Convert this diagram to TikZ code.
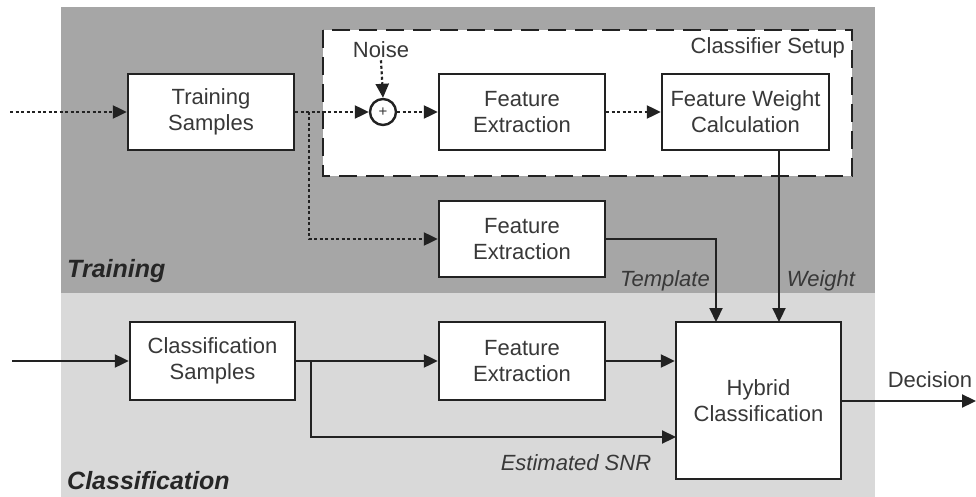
\documentclass[tikz,border=0pt]{standalone}
\usepackage{fontspec}
\setmainfont{Liberation Sans}
\usetikzlibrary{arrows.meta,calc}
\definecolor{traingray}{HTML}{A6A6A6}
\definecolor{classgray}{HTML}{D9D9D9}
\definecolor{inkgray}{HTML}{222222}
\definecolor{textgray}{HTML}{383838}
\begin{document}
\begin{tikzpicture}[x=1pt,y=-1pt,
  every node/.style={text=textgray},
  blockbox/.style={draw=inkgray, line width=2.4pt, fill=white, align=center,
    font=\fontsize{22}{26}\selectfont, inner sep=0pt},
  lbl/.style={font=\fontsize{22}{26}\selectfont, inner sep=0pt},
  ilbl/.style={font=\fontsize{22}{26}\selectfont\itshape, inner sep=0pt},
  sectlbl/.style={font=\fontsize{25}{30}\selectfont\bfseries\itshape, inner sep=0pt, text=black!85},
  conn/.style={draw=inkgray, line width=2.2pt, -{Triangle[length=14pt,width=13pt]}},
  dotconn/.style={conn, dash pattern=on 3pt off 2.5pt},
  plain/.style={draw=inkgray, line width=2.2pt}
]
\useasboundingbox (0,0) rectangle (976,497);

% stage backgrounds
\fill[traingray] (61,7) rectangle (875,293);
\fill[classgray] (61,293) rectangle (875,497);

% classifier setup frame
\draw[draw=inkgray, fill=white, line width=2.6pt, dash pattern=on 18pt off 9pt]
  (323,30) rectangle (852,176);
\node[lbl, anchor=east] (setup) at (845,48) {Classifier Setup};

% blocks
\node[blockbox, minimum width=166pt, minimum height=76pt] (ts) at (211,112) {Training\\Samples};
\node[draw=inkgray, line width=2.4pt, fill=white, circle, minimum size=26pt, inner sep=0pt,
  font=\fontsize{15}{15}\selectfont] (sum) at (383,112) {+};
\node[lbl] (noise) at (381,50) {Noise};
\node[blockbox, minimum width=166pt, minimum height=76pt] (fe1) at (522,112) {Feature\\Extraction};
\node[blockbox, minimum width=167pt, minimum height=76pt] (fwc) at (745.5,112) {Feature Weight\\Calculation};
\node[blockbox, minimum width=166pt, minimum height=76pt] (fe2) at (522,239) {Feature\\Extraction};
\node[blockbox, minimum width=165pt, minimum height=78pt] (cs) at (212.5,361) {Classification\\Samples};
\node[blockbox, minimum width=166pt, minimum height=78pt] (fe3) at (522,361) {Feature\\Extraction};
\node[blockbox, minimum width=165pt, minimum height=157pt] (hc) at (758.5,400.5) {Hybrid\\Classification};

% free ends and branch points
\coordinate (tin) at (10,112);
\coordinate (tsplit) at (309,112);
\coordinate (cin) at (12,361);
\coordinate (csplit) at (311,361);
\coordinate (tmpl) at (716,322);
\coordinate (wgt) at (779,322);
\coordinate (snr) at (676,437);
\coordinate (dout) at (976,401);

% training path (dotted)
\draw[dotconn] (tin) -- (ts.west);
\draw[dotconn] (ts.east) -- (sum.west);
\draw[dotconn] (tsplit) |- (fe2.west);
\draw[dotconn] (noise.south) ++(0,2) -- (sum.north);
\draw[dotconn] (sum.east) -- (fe1.west);
\draw[dotconn] (fe1.east) -- (fwc.west);

% outputs of training
\draw[conn] (fe2.east) -| (tmpl);
\draw[conn] (fwc.south -| wgt) -- (wgt);
\node[ilbl, anchor=east] (tlbl) at (710,281) {Template};
\node[ilbl] (wlbl) at (821,281) {Weight};

% classification path
\draw[conn] (cin) -- (cs.west);
\draw[conn] (cs.east) -- (fe3.west);
\draw[conn] (csplit) |- (snr);
\draw[conn] (fe3.east) -- (fe3.east -| hc.west);
\node[ilbl] (snrlbl) at (576,463) {Estimated SNR};
\draw[conn] (hc.east |- dout) -- (dout);
\node[lbl] (dec) at (930,380) {Decision};

% stage captions
\node[sectlbl, anchor=west] (trlbl) at (67,271) {Training};
\node[sectlbl, anchor=west] (cllbl) at (67,481) {Classification};
\end{tikzpicture}
\end{document}
